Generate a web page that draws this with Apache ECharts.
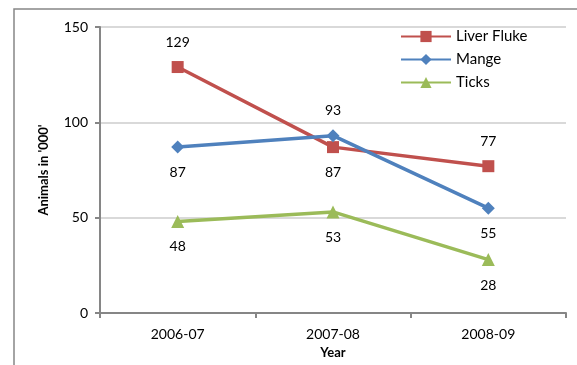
<!DOCTYPE html>
<html><head><meta charset="utf-8">
<script src="https://cdn.jsdelivr.net/npm/echarts@6/dist/echarts.min.js"></script>
<style>html,body{margin:0;padding:0;background:#fff}#c{width:577px;height:365px}</style>
</head><body><div id="c"></div>
<script>
const categories = ['2006-07', '2007-08', '2008-09'];
const liverFluke = [129, 87, 77];
const mange = [87, 93, 55];
const ticks = [48, 53, 28];
const liverFlukeLabelPos = ['top', 'bottom', 'top'];
const mangeLabelPos = ['bottom', 'top', 'bottom'];
const ticksLabelPos = ['bottom', 'bottom', 'bottom'];
const yTicks = [0, 50, 100, 150];

const FONT = 'Lato';
function mkData(vals, pos) {
  return vals.map((v, i) => ({ value: v, label: { position: pos[i] } }));
}
function series(name, vals, pos, color, symbol, size) {
  return {
    name, type: 'line', data: mkData(vals, pos),
    symbol, symbolSize: size,
    lineStyle: { color, width: 3.5 },
    itemStyle: { color },
    label: { show: true, distance: 12, color: '#000', fontFamily: FONT, fontSize: 14 },
    emphasis: { disabled: true }
  };
}
const chart = echarts.init(document.getElementById('c'));
chart.setOption({
  animation: false,
  grid: { left: 100, right: 11, top: 27, bottom: 52 },
  graphic: [{
    type: 'rect', shape: { x: 14, y: 9, width: 600, height: 400 },
    style: { fill: 'none', stroke: '#868686', lineWidth: 1.5 }, silent: true
  }],
  legend: {
    orient: 'vertical', left: 395, top: 24, itemGap: 8,
    itemWidth: 50, itemHeight: 14,
    textStyle: { fontFamily: FONT, fontSize: 15, color: '#000' },
    data: ['Liver Fluke', 'Mange', 'Ticks']
  },
  xAxis: {
    type: 'category', data: categories, boundaryGap: true,
    name: 'Year', nameLocation: 'middle', nameGap: 32,
    nameTextStyle: { fontFamily: FONT, fontWeight: 'bold', fontSize: 13, color: '#000' },
    axisLine: { lineStyle: { color: '#868686', width: 2 } },
    axisTick: { show: true, length: 5, lineStyle: { color: '#868686', width: 2 } },
    axisLabel: { fontFamily: FONT, fontSize: 14, color: '#000', margin: 14 }
  },
  yAxis: {
    type: 'value', min: yTicks[0], max: yTicks[yTicks.length - 1], interval: 50,
    name: "Animals in '000'", nameLocation: 'middle', nameGap: 50, nameRotate: 90,
    nameTextStyle: { fontFamily: FONT, fontWeight: 'bold', fontSize: 13, color: '#000' },
    axisLine: { show: true, lineStyle: { color: '#868686', width: 2 } },
    axisTick: { show: true, length: 5, lineStyle: { color: '#868686', width: 2 } },
    axisLabel: { fontFamily: FONT, fontSize: 14, color: '#000', margin: 12 },
    splitLine: { lineStyle: { color: '#d9d9d9', width: 2 } }
  },
  series: [
    series('Liver Fluke', liverFluke, liverFlukeLabelPos, '#C0504D', 'rect', 12),
    series('Mange', mange, mangeLabelPos, '#4F81BD', 'diamond', 13),
    series('Ticks', ticks, ticksLabelPos, '#9BBB59', 'triangle', 13)
  ]
});
</script></body></html>
